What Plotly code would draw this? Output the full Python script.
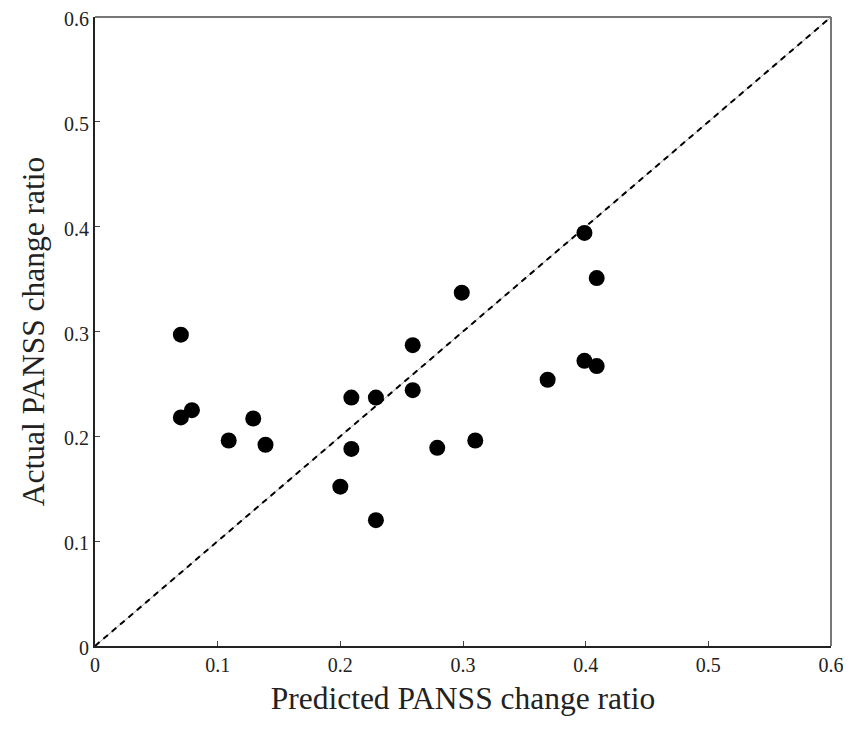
import plotly.graph_objects as go

predicted = [0.07, 0.07, 0.079, 0.109, 0.129, 0.139, 0.20, 0.209, 0.209, 0.229, 0.229,
             0.259, 0.259, 0.279, 0.299, 0.31, 0.369, 0.399, 0.399, 0.409, 0.409]
actual = [0.297, 0.218, 0.225, 0.196, 0.217, 0.192, 0.152, 0.237, 0.188, 0.237, 0.120,
          0.287, 0.244, 0.189, 0.337, 0.196, 0.254, 0.394, 0.272, 0.351, 0.267]
diag = [0, 0.6]
ticks = [0, 0.1, 0.2, 0.3, 0.4, 0.5, 0.6]
tick_text = ["0", "0.1", "0.2", "0.3", "0.4", "0.5", "0.6"]

fig = go.Figure()
fig.add_trace(go.Scatter(x=diag, y=diag, mode="lines",
                         line=dict(color="#aaaaaa", width=1), hoverinfo="skip"))
fig.add_trace(go.Scatter(x=diag, y=diag, mode="lines",
                         line=dict(color="black", width=2, dash="6px,5px"), hoverinfo="skip"))
fig.add_trace(go.Scatter(x=predicted, y=actual, mode="markers",
                         marker=dict(color="black", size=16, line=dict(width=0))))

font = "Liberation Serif, Times New Roman, serif"
axis_common = dict(range=[0, 0.6], tickvals=ticks, ticktext=tick_text,
                   ticks="inside", ticklen=5, tickcolor="#444", tickwidth=1,
                   showgrid=False, zeroline=False, showline=True,
                   linecolor="#222", linewidth=2, ticklabeloverflow="allow",
                   tickfont=dict(family=font, size=20, color="#222"))
fig.update_xaxes(**axis_common,
                 title=dict(text="Predicted PANSS change ratio",
                            font=dict(family=font, size=31.5, color="#222"), standoff=12))
fig.update_yaxes(**axis_common, ticklabelshift=2,
                 title=dict(text="Actual PANSS change ratio",
                            font=dict(family=font, size=31.5, color="#222"), standoff=10))
fig.add_shape(type="line", xref="paper", yref="paper", x0=0, x1=1, y0=1, y1=1,
              line=dict(color="#777", width=2))
fig.add_shape(type="line", xref="paper", yref="paper", x0=1, x1=1, y0=0, y1=1,
              line=dict(color="#777", width=2))
fig.update_layout(width=835, height=715, showlegend=False,
                  plot_bgcolor="white", paper_bgcolor="white",
                  margin=dict(l=87, r=12, t=9, b=77, autoexpand=False))
fig.write_html("out.html")
